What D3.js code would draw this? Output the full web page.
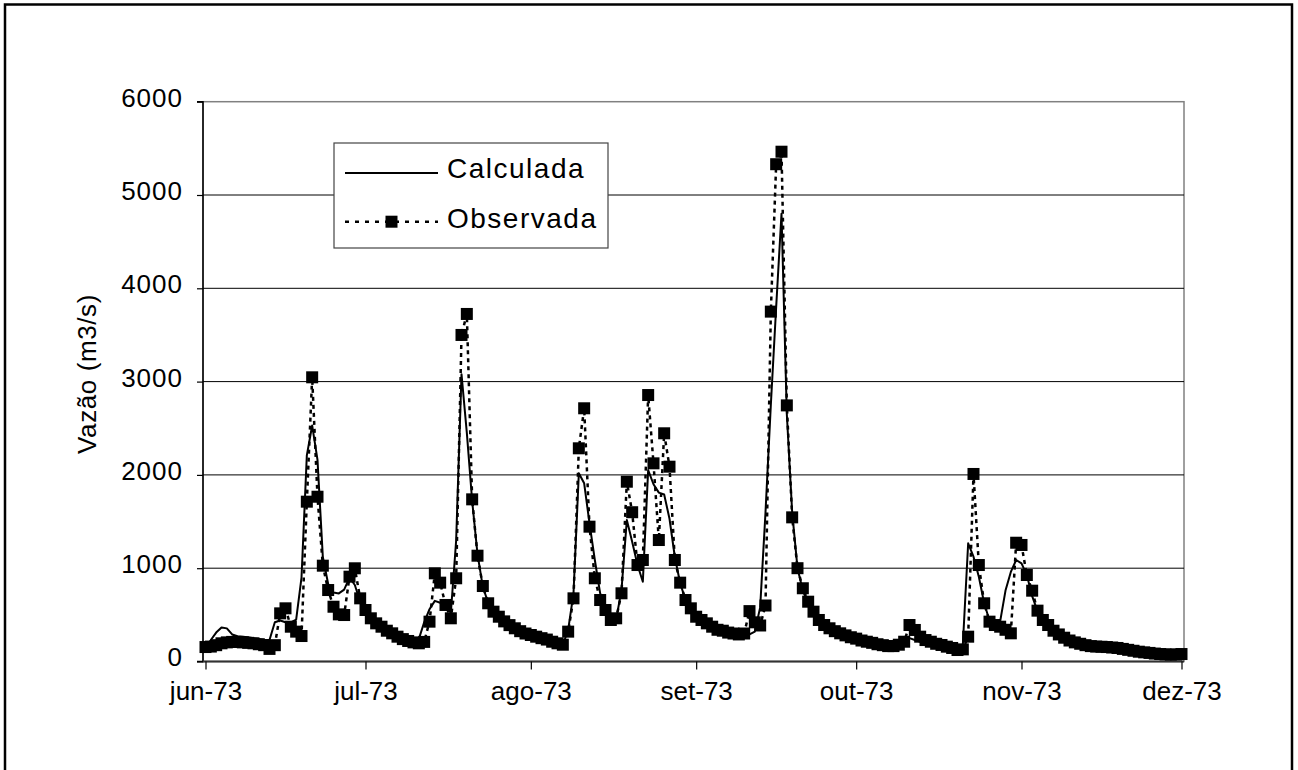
<!DOCTYPE html>
<html><head><meta charset="utf-8">
<script src="https://cdn.jsdelivr.net/npm/d3@7"></script>
<style>
body{margin:0;background:#fff;}
text{font-family:"Liberation Sans",Arial,sans-serif;fill:#000;}
</style>
</head><body>
<svg id="c" width="1298" height="770"></svg>
<script>
// ---------- data ----------
const startDate = "1973-06-01";
const endDate = "1973-12-01";
const monthTicks = ["1973-06-01","1973-07-01","1973-08-01","1973-09-01","1973-10-01","1973-11-01","1973-12-01"];
const monthLabels = ["jun-73","jul-73","ago-73","set-73","out-73","nov-73","dez-73"];
const yTicks = [0,1000,2000,3000,4000,5000,6000];
const seriesNames = ["Calculada","Observada"];
const yTitle = "Vazão (m3/s)";

// daily observed flow, 1 Jun 1973 .. 1 Dec 1973
const observada = [
 155,160,175,195,205,210,210,205,200,195,
 185,175,135,175,516,570,373,320,273,1713,
 3046,1766,1027,766,587,505,498,909,999,677,
 552,463,409,373,330,302,266,240,220,205,
 195,210,427,945,845,606,463,892,3500,3725,
 1738,1134,809,624,534,480,430,390,356,325,
 300,284,266,250,235,212,195,180,320,677,
 2285,2714,1445,892,659,552,445,463,731,1927,
 1600,1034,1088,2856,2124,1302,2446,2088,1088,845,
 659,570,480,445,409,373,340,330,310,300,
 290,300,540,420,386,600,3750,5330,5464,2745,
 1545,1000,785,641,534,445,391,356,325,302,
 280,260,245,225,212,200,185,175,165,165,
 180,212,391,338,266,230,212,190,177,159,
 145,123,130,266,2010,1034,624,427,391,373,
 340,302,1273,1249,927,759,545,445,391,330,
 290,255,225,205,190,175,165,160,158,155,
 150,145,135,125,115,105,98,92,85,80,
 76,74,75,80
];
// daily calculated flow
const calculada = [
 160,230,310,365,355,290,270,265,260,250,
 240,230,230,420,440,420,420,450,900,2210,
 2530,2160,1120,830,740,730,770,900,820,640,
 520,450,400,360,320,290,260,235,215,200,
 240,420,560,650,630,600,520,1300,3080,2450,
 1720,1150,800,630,530,465,415,375,340,310,
 285,265,250,235,220,205,190,177,338,731,
 2017,1910,1481,1088,731,552,440,450,766,1517,
 1284,1034,855,2052,1900,1810,1790,1530,1120,838,
 660,560,475,420,385,355,330,310,290,280,
 270,275,290,320,580,1600,2750,3800,4800,2650,
 1600,1000,760,620,520,440,385,345,310,285,
 260,240,220,205,190,175,165,155,148,150,
 180,230,250,230,210,190,175,165,150,140,
 130,125,180,1267,1123,909,624,440,420,430,
 760,960,1088,1052,927,700,540,440,380,320,
 280,250,225,205,190,178,168,160,155,150,
 145,140,130,120,112,105,98,92,86,82,
 78,76,74,75
];

// ---------- layout ----------
const L = 203, R = 1184, T = 101.7, B = 661.5;
const svg = d3.select("#c");

const parse = d3.utcParse("%Y-%m-%d");
const start = parse(startDate);
const dates = observada.map((_, i) => d3.utcDay.offset(start, i));

const x = d3.scaleUtc().domain([start, parse(endDate)]).range([205.5, 1181.5]);
const y = d3.scaleLinear().domain([0, 6000]).range([B, T]);

// outer frame
svg.append("rect").attr("x", 5).attr("y", 4.5).attr("width", 1287).attr("height", 820)
  .attr("fill", "#fff").attr("stroke", "#000").attr("stroke-width", 2.5);

// plot area border (top/right gray)
svg.append("rect").attr("x", L).attr("y", T).attr("width", R - L).attr("height", B - T)
  .attr("fill", "none").attr("stroke", "#808080").attr("stroke-width", 1.5);

// gridlines
svg.append("g").selectAll("line").data(yTicks.filter(v => v > 0 && v < 6000)).join("line")
  .attr("x1", L).attr("x2", R).attr("y1", d => y(d)).attr("y2", d => y(d))
  .attr("stroke", "#000").attr("stroke-width", 1);

// y axis
const yAxis = svg.append("g").attr("transform", `translate(${L},0)`)
  .call(d3.axisLeft(y).tickValues(yTicks).tickSize(6).tickPadding(14).tickFormat(d3.format("d")));
yAxis.select(".domain").attr("stroke", "#000").attr("stroke-width", 1.5).attr("d", `M-6,${T}H0V${B}H-6`);
yAxis.selectAll(".tick line").attr("stroke", "#000").attr("stroke-width", 1.2);
yAxis.selectAll(".tick text").attr("font-size", 26).attr("dy", "0.17em")
  .attr("font-family", "Liberation Sans, Arial, sans-serif").style("letter-spacing", "1px");

// x axis
const tickDates = monthTicks.map(parse);
const xAxis = svg.append("g").attr("transform", `translate(0,${B})`)
  .call(d3.axisBottom(x).tickValues(tickDates).tickSize(8).tickPadding(12)
    .tickFormat((d, i) => monthLabels[i]));
xAxis.select(".domain").attr("stroke", "#333").attr("stroke-width", 2).attr("d", `M${L},0H${R}`);
xAxis.selectAll(".tick line").attr("stroke", "#000").attr("stroke-width", 1.2);
xAxis.selectAll(".tick text").attr("font-size", 26)
  .attr("font-family", "Liberation Sans, Arial, sans-serif");

// y title
svg.append("text").attr("transform", "translate(96,374) rotate(-90)")
  .attr("text-anchor", "middle").attr("font-size", 26).style("letter-spacing", "0.6px")
  .text(yTitle);

// series
const obsData = dates.map((d, i) => ({date: d, v: observada[i]}));
const calData = dates.map((d, i) => ({date: d, v: calculada[i]}));
const line = d3.line().x(d => x(d.date)).y(d => y(d.v));

svg.append("path").datum(obsData).attr("d", line).attr("fill", "none")
  .attr("stroke", "#000").attr("stroke-width", 2.5).attr("stroke-dasharray", "4,4");

const ms = 12;
svg.append("g").selectAll("rect").data(obsData).join("rect")
  .attr("x", d => x(d.date) - ms / 2).attr("y", d => y(d.v) - ms / 2)
  .attr("width", ms).attr("height", ms).attr("fill", "#000");

svg.append("path").datum(calData).attr("d", line).attr("fill", "none")
  .attr("stroke", "#000").attr("stroke-width", 2).attr("stroke-linejoin", "round");

// legend
const lg = svg.append("g");
lg.append("rect").attr("x", 334).attr("y", 143).attr("width", 274).attr("height", 105)
  .attr("fill", "#fff").attr("stroke", "#444").attr("stroke-width", 1.2);
lg.append("line").attr("x1", 345).attr("x2", 438).attr("y1", 173).attr("y2", 173)
  .attr("stroke", "#000").attr("stroke-width", 2);
lg.append("text").attr("x", 447).attr("y", 177.5).attr("font-size", 28)
  .style("letter-spacing", "1.5px").text(seriesNames[0]);
lg.append("line").attr("x1", 345).attr("x2", 438).attr("y1", 221.7).attr("y2", 221.7)
  .attr("stroke", "#000").attr("stroke-width", 2.5).attr("stroke-dasharray", "4,6");
lg.append("rect").attr("x", 391.5 - ms / 2).attr("y", 221.7 - ms / 2).attr("width", ms).attr("height", ms)
  .attr("fill", "#000");
lg.append("text").attr("x", 447).attr("y", 227.5).attr("font-size", 28)
  .style("letter-spacing", "1.5px").text(seriesNames[1]);
</script>
</body></html>
